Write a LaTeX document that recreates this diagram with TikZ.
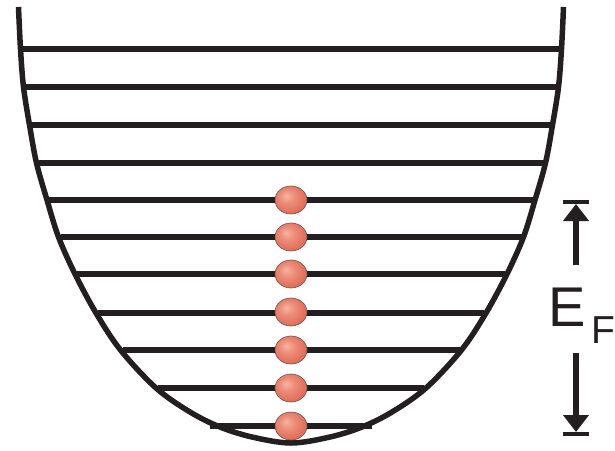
\documentclass[tikz,border=0pt]{standalone}
\usepackage{fontspec}
\setmainfont{Liberation Sans}
\usetikzlibrary{shapes.geometric,arrows.meta}
\definecolor{ink}{HTML}{231F20}
\definecolor{ballhi}{HTML}{F5B4A3}
\definecolor{ballmid}{HTML}{EC8C78}
\definecolor{balledge}{HTML}{DD6753}
\definecolor{ballline}{HTML}{6A5450}
\pgfdeclareradialshading{ballshade}{\pgfpoint{-8bp}{8bp}}{%
  color(0bp)=(ballhi); color(12bp)=(ballmid); color(30bp)=(balledge); color(50bp)=(balledge)}
\tikzset{
  well/.style={draw=ink, line width=5.5pt, line cap=butt},
  level/.style={draw=ink, line width=5.6pt},
  electron/.style={ellipse, minimum width=32pt, minimum height=28pt, inner sep=0pt,
    shading=ballshade, draw=ballline, line width=0.6pt},
  shaft/.style={draw=ink, fill=ink, line width=6pt, -{Triangle[width=25pt,length=17pt]}},
  tickbar/.style={draw=ink, line width=4pt},
  label/.style={text=ink, inner sep=0pt}
}
\begin{document}
\begin{tikzpicture}[x=1pt,y=-1pt]
\useasboundingbox (0,0) rectangle (615,450);
% energy levels (y, half width)
\foreach \yy/\hw in {49/268,87/265,125/259.5,163/252.5,200/242,237/230.5,274/214,313/193,350/168.5,388/133,426/81}{
  \draw[level] (291-\hw,\yy) -- (291+\hw,\yy);
}
% the well
\draw[well] plot[smooth, tension=0.55] coordinates {
  (18.5,7) (20.5,49) (23.5,87) (29.5,125) (36.5,163) (47,200) (58.5,237) (75,274)
  (96,313) (120.5,350) (156,388) (190,412) (220,427) (252,437) (291,443)
  (330,437) (362,427) (392,412) (426,388) (461.5,350) (486,313) (507,274) (523.5,237)
  (535,200) (545.5,163) (552.5,125) (558.5,87) (561.5,49) (563.5,7)};
% electrons
\foreach \yy [count=\i] in {200,237,274,312,350,388,426}{
  \node[electron] (e\i) at (291,\yy) {};
}
% Fermi energy marker
\node[label, anchor=base west] (ef) at (548,326)
  {\fontsize{56}{56}\selectfont E\hspace{6pt}\raisebox{-17pt}{\fontsize{39}{39}\selectfont F}};
\coordinate (tl) at (563,202);
\coordinate (tr) at (589,202);
\coordinate (bl) at (563,434);
\coordinate (br) at (589,434);
\coordinate (upstart) at (576,265);
\coordinate (upend) at (576,204);
\coordinate (dnstart) at (576,353);
\coordinate (dnend) at (576,432);
\draw[tickbar] (tl) -- (tr);
\draw[tickbar] (bl) -- (br);
\draw[shaft] (upstart) -- (upend);
\draw[shaft] (dnstart) -- (dnend);
\end{tikzpicture}
\end{document}
